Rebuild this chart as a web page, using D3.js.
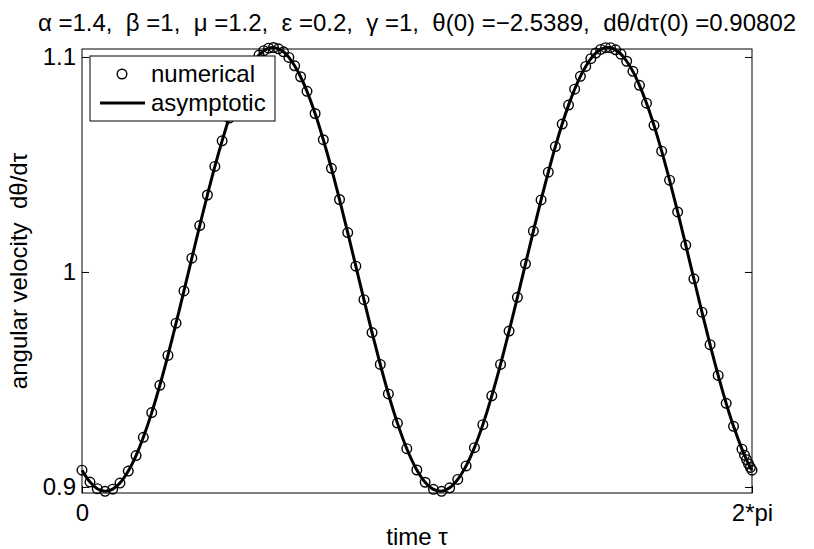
<!DOCTYPE html>
<html>
<head>
<meta charset="utf-8">
<script src="https://cdn.jsdelivr.net/npm/d3@7"></script>
<style>
  body { margin: 0; background: #fff; }
  svg { display: block; font-family: "Liberation Sans", Arial, Helvetica, sans-serif; }
  text { white-space: pre; }
</style>
</head>
<body>
<svg id="chart" width="814" height="549"></svg>
<script>
// time samples (rad)
const tau = [
  0, 0.075, 0.143, 0.216, 0.288, 0.356, 0.434, 0.507, 0.575, 0.654,
  0.730, 0.806, 0.882, 0.956, 1.030, 1.104, 1.176, 1.246, 1.314, 1.380,
  1.444, 1.504, 1.560, 1.612, 1.660, 1.705, 1.750, 1.796, 1.842, 1.890,
  1.940, 1.994, 2.050, 2.110, 2.186, 2.263, 2.339, 2.415, 2.492, 2.568,
  2.644, 2.720, 2.797, 2.873, 2.958, 3.046, 3.140, 3.218, 3.296, 3.372,
  3.448, 3.524, 3.602, 3.680, 3.759, 3.843, 3.925, 4.005, 4.083, 4.159,
  4.233, 4.305, 4.373, 4.439, 4.503, 4.563, 4.620, 4.674, 4.724, 4.772,
  4.818, 4.864, 4.910, 4.956, 5.004, 5.054, 5.108, 5.166, 5.228, 5.294,
  5.364, 5.436, 5.510, 5.586, 5.662, 5.738, 5.814, 5.890, 5.966, 6.041,
  6.110, 6.189, 6.213, 6.232, 6.250, 6.268, 6.2832
];

// numerical solution dθ/dτ (circles)
const numerical = [
  0.9078, 0.9023, 0.8992, 0.8980, 0.8990, 0.9018, 0.9074, 0.9146, 0.9231, 0.9346,
  0.9473, 0.9612, 0.9762, 0.9912, 1.0064, 1.0216, 1.0358, 1.0491, 1.0610, 1.0716,
  1.0807, 1.0880, 1.0937, 1.0979, 1.1009, 1.1029, 1.1041, 1.1044, 1.1038, 1.1024,
  1.0998, 1.0959, 1.0908, 1.0840, 1.0737, 1.0615, 1.0482, 1.0337, 1.0183, 1.0027,
  0.9871, 0.9718, 0.9570, 0.9433, 0.9297, 0.9178, 0.9079, 0.9022, 0.8989, 0.8980,
  0.8996, 0.9035, 0.9098, 0.9183, 0.9290, 0.9424, 0.9570, 0.9725, 0.9882, 1.0038,
  1.0190, 1.0335, 1.0464, 1.0583, 1.0688, 1.0776, 1.0850, 1.0910, 1.0956, 1.0992,
  1.1018, 1.1035, 1.1043, 1.1043, 1.1033, 1.1013, 1.0980, 1.0933, 1.0868, 1.0785,
  1.0682, 1.0562, 1.0427, 1.0279, 1.0125, 0.9968, 0.9813, 0.9662, 0.9519, 0.9389,
  0.9282, 0.9176, 0.9148, 0.9127, 0.9108, 0.9091, 0.9078
];

// asymptotic solution dθ/dτ (solid line), same time grid
const asymptotic = [
  0.9078, 0.9023, 0.8992, 0.8980, 0.8990, 0.9018, 0.9074, 0.9146, 0.9231, 0.9346,
  0.9473, 0.9612, 0.9762, 0.9912, 1.0064, 1.0216, 1.0358, 1.0491, 1.0610, 1.0716,
  1.0807, 1.0880, 1.0937, 1.0979, 1.1009, 1.1029, 1.1041, 1.1044, 1.1038, 1.1024,
  1.0998, 1.0959, 1.0908, 1.0840, 1.0737, 1.0615, 1.0482, 1.0337, 1.0183, 1.0027,
  0.9871, 0.9718, 0.9570, 0.9433, 0.9297, 0.9178, 0.9079, 0.9022, 0.8989, 0.8980,
  0.8996, 0.9035, 0.9098, 0.9183, 0.9290, 0.9424, 0.9570, 0.9725, 0.9882, 1.0038,
  1.0190, 1.0335, 1.0464, 1.0583, 1.0688, 1.0776, 1.0850, 1.0910, 1.0956, 1.0992,
  1.1018, 1.1035, 1.1043, 1.1043, 1.1033, 1.1013, 1.0980, 1.0933, 1.0868, 1.0785,
  1.0682, 1.0562, 1.0427, 1.0279, 1.0125, 0.9968, 0.9813, 0.9662, 0.9519, 0.9389,
  0.9282, 0.9176, 0.9148, 0.9127, 0.9108, 0.9091, 0.9078
];

const xTicks = [0, 2 * Math.PI];
const xTickLabels = ['0', '2*pi'];
const yTicks = [0.9, 1, 1.1];
const yTickLabels = ['0.9', '1', '1.1'];
const seriesNames = ['numerical', 'asymptotic'];

const titleText = 'α =1.4,  β =1,  μ =1.2,  ε =0.2,  γ =1,  θ(0) =\u22122.5389,  dθ/dτ(0) =0.90802';
const xLabel = 'time τ';
const yLabel = 'angular velocity  dθ/dτ';

const FONT = 24;
const box = { left: 82, right: 752, top: 49, bottom: 493 };

const svg = d3.select('#chart');
svg.append('rect').attr('width', 814).attr('height', 549).attr('fill', '#fff');

const x = d3.scaleLinear().domain([0, 2 * Math.PI]).range([box.left, box.right]);
const y = d3.scaleLinear().domain([0.8972, 1.1037]).range([box.bottom, box.top]);

// axes with inward ticks, matlab style
const yAxis = d3.axisLeft(y)
    .tickValues(yTicks)
    .tickFormat((d, i) => yTickLabels[i])
    .tickSize(-7)
    .tickPadding(6);

const gy = svg.append('g').attr('transform', `translate(${box.left},0)`).call(yAxis);
gy.select('.domain').remove();

const gyr = svg.append('g')
    .attr('transform', `translate(${box.right},0)`)
    .call(d3.axisRight(y).tickValues(yTicks).tickSize(-7).tickFormat(''));
gyr.select('.domain').remove();

const xAxis = d3.axisBottom(x)
    .tickValues(xTicks)
    .tickFormat((d, i) => xTickLabels[i])
    .tickSize(-7)
    .tickPadding(11);

const gx = svg.append('g').attr('transform', `translate(0,${box.bottom})`).call(xAxis);
gx.select('.domain').remove();

svg.selectAll('.tick line').attr('stroke', '#000').attr('stroke-width', 1);
svg.selectAll('.tick text')
    .attr('fill', '#000')
    .style('font-size', FONT + 'px')
    .style('font-family', '"Liberation Sans", Arial, sans-serif');

// axes box
svg.append('rect')
    .attr('x', box.left)
    .attr('y', box.top)
    .attr('width', box.right - box.left)
    .attr('height', box.bottom - box.top)
    .attr('fill', 'none')
    .attr('stroke', '#000')
    .attr('stroke-width', 1);

const pts = tau.map((t, i) => ({ t, v: numerical[i] }));
const linePts = tau.map((t, i) => ({ t, v: asymptotic[i] }));

// numerical circles
svg.append('g')
    .attr('class', 'numerical')
    .selectAll('circle')
    .data(pts)
    .join('circle')
    .attr('cx', d => x(d.t))
    .attr('cy', d => y(d.v))
    .attr('r', 4.8)
    .attr('fill', 'none')
    .attr('stroke', '#000')
    .attr('stroke-width', 1.4);

// asymptotic line
const line = d3.line()
    .x(d => x(d.t))
    .y(d => y(d.v))
    .curve(d3.curveCatmullRom);

svg.append('path')
    .datum(linePts)
    .attr('d', line)
    .attr('fill', 'none')
    .attr('stroke', '#000')
    .attr('stroke-width', 3);

// title & labels
svg.append('text')
    .attr('x', (box.left + box.right) / 2)
    .attr('y', 31)
    .attr('text-anchor', 'middle')
    .style('font-size', FONT + 'px')
    .text(titleText);

svg.append('text')
    .attr('x', (box.left + box.right) / 2)
    .attr('y', 545)
    .attr('text-anchor', 'middle')
    .style('font-size', FONT + 'px')
    .text(xLabel);

svg.append('text')
    .attr('transform', `translate(27,${(box.top + box.bottom) / 2}) rotate(-90)`)
    .attr('text-anchor', 'middle')
    .style('font-size', FONT + 'px')
    .text(yLabel);

// legend
const legend = svg.append('g').attr('class', 'legend');
legend.append('rect')
    .attr('x', 90).attr('y', 56)
    .attr('width', 185).attr('height', 65)
    .attr('fill', '#fff')
    .attr('stroke', '#000')
    .attr('stroke-width', 1);

legend.append('circle')
    .attr('cx', 122).attr('cy', 74)
    .attr('r', 4.8)
    .attr('fill', 'none')
    .attr('stroke', '#000')
    .attr('stroke-width', 1.4);

legend.append('line')
    .attr('x1', 100).attr('x2', 145)
    .attr('y1', 103).attr('y2', 103)
    .attr('stroke', '#000')
    .attr('stroke-width', 3);

legend.selectAll('text.lab')
    .data(seriesNames)
    .join('text')
    .attr('class', 'lab')
    .attr('x', 151)
    .attr('y', (d, i) => 82 + i * 29)
    .style('font-size', FONT + 'px')
    .text(d => d);
</script>
</body>
</html>
